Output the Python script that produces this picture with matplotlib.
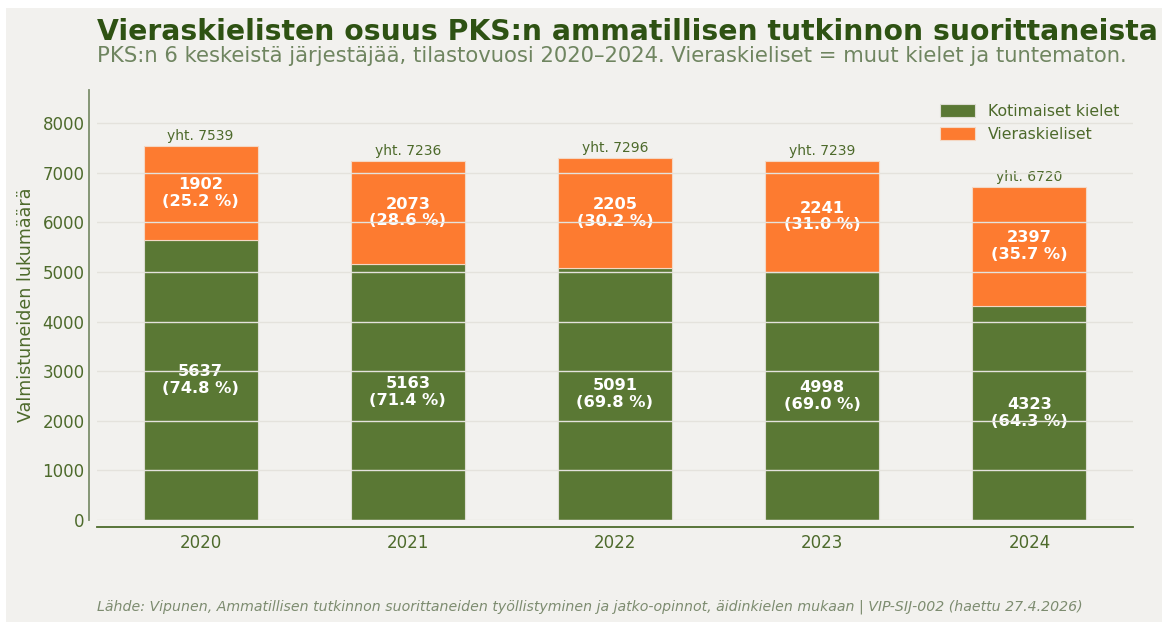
import matplotlib
matplotlib.use("Agg")
import matplotlib.pyplot as plt
from matplotlib.patches import Rectangle
import numpy as np

years = ["2020", "2021", "2022", "2023", "2024"]
domestic = [5637, 5163, 5091, 4998, 4323]
foreign = [1902, 2073, 2205, 2241, 2397]
totals = [7539, 7236, 7296, 7239, 6720]
series_names = ["Kotimaiset kielet", "Vieraskieliset"]

title = "Vieraskielisten osuus PKS:n ammatillisen tutkinnon suorittaneista"
subtitle = "PKS:n 6 keskeistä järjestäjää, tilastovuosi 2020–2024. Vieraskieliset = muut kielet ja tuntematon."
ylabel = "Valmistuneiden lukumäärä"
source = ("Lähde: Vipunen, Ammatillisen tutkinnon suorittaneiden työllistyminen ja jatko-opinnot, "
          "äidinkielen mukaan | VIP-SIJ-002 (haettu 27.4.2026)")

GREEN = "#5a7834"
ORANGE = "#fd7b30"
BG = "#f2f1ee"
DARK = "#2e5213"
TEXT = "#4d6a2b"
SUB = "#6f8560"

plt.rcParams["font.family"] = ["DejaVu Sans"]

fig = plt.figure(figsize=(11.62, 6.22), dpi=100, facecolor="white")
fig.patches.append(Rectangle((6 / 1162, 0), 1, 1 - 8 / 622, transform=fig.transFigure,
                             facecolor=BG, edgecolor="none", zorder=-10))

ax = fig.add_axes([97 / 1162, 1 - 520 / 622, (1133 - 97) / 1162, (520 - 90) / 622])
ax.set_facecolor(BG)

x = np.arange(len(years))
w = 0.55
ax.bar(x, domestic, w, color=GREEN, edgecolor="#dcdcd2", linewidth=0.8,
       label=series_names[0], zorder=1)
ax.bar(x, foreign, w, bottom=domestic, color=ORANGE, edgecolor="#f4d8c4", linewidth=0.8,
       label=series_names[1], zorder=1)

for i in range(len(years)):
    d, f, t = domestic[i], foreign[i], totals[i]
    ax.text(x[i], d / 2, f"{d}\n({d / t * 100:.1f} %)", ha="center", va="center",
            color="white", fontsize=11.7, fontweight="bold", linespacing=1.15, zorder=2)
    ax.text(x[i], d + f / 2, f"{f}\n({f / t * 100:.1f} %)", ha="center", va="center",
            color="white", fontsize=11.7, fontweight="bold", linespacing=1.15, zorder=2)
    ax.annotate(f"yht. {t}", (x[i], t), xytext=(0, 2), textcoords="offset points",
                ha="center", va="bottom", fontsize=10, color=TEXT, zorder=2)

ax.set_xlim(-0.5, len(years) - 0.5)
ax.set_ylim(0, max(totals) * 1.15)
ax.set_xticks(x)
ax.set_xticklabels(years)
ax.set_yticks(np.arange(0, 9000, 1000))
ax.tick_params(axis="both", length=0, labelsize=12, labelcolor=TEXT)
ax.tick_params(axis="y", pad=3)
ax.tick_params(axis="x", pad=5)

ax.set_axisbelow(False)
ax.yaxis.grid(True, color="#e4e2dc", linewidth=1.0)
ax.xaxis.grid(False)

for s in ["top", "right"]:
    ax.spines[s].set_visible(False)
ax.spines["left"].set_position(("outward", 6))
ax.spines["bottom"].set_position(("outward", 5))
ax.spines["left"].set_color("#7d8f6c")
ax.spines["left"].set_linewidth(1.3)
ax.spines["bottom"].set_color("#4c6b2c")
ax.spines["bottom"].set_linewidth(1.3)

ax.set_ylabel(ylabel, fontsize=12.6, color=TEXT, labelpad=5)

leg = ax.legend(loc="upper right", frameon=False, fontsize=11.3, handlelength=2.2,
                handleheight=0.9, bbox_to_anchor=(1.0, 1.0))
for t in leg.get_texts():
    t.set_color(TEXT)

fig.text(97 / 1162, 1 - 40 / 622, title, fontsize=20.3, fontweight="bold", color=DARK,
         ha="left", va="baseline")
fig.text(97 / 1162, 1 - 62 / 622, subtitle, fontsize=15.2, color=SUB, ha="left", va="baseline")
fig.text(97 / 1162, 1 - 611 / 622, source, fontsize=10.2, style="italic", color="#7d8c70",
         ha="left", va="baseline")

fig.savefig("out.png", dpi=100, facecolor=fig.get_facecolor())
